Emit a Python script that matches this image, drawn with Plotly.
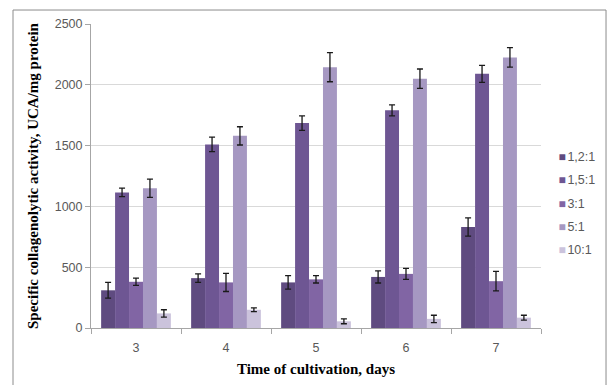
import plotly.graph_objects as go

days = ["3", "4", "5", "6", "7"]
series_names = ["1,2:1", "1,5:1", "3:1", "5:1", "10:1"]
values = {
    "1,2:1": [310, 410, 375, 420, 830],
    "1,5:1": [1115, 1510, 1685, 1790, 2090],
    "3:1": [380, 375, 400, 445, 385],
    "5:1": [1150, 1580, 2145, 2050, 2225],
    "10:1": [120, 150, 55, 75, 85],
}
errors = {
    "1,2:1": [65, 35, 55, 50, 75],
    "1,5:1": [35, 60, 60, 45, 70],
    "3:1": [30, 75, 30, 45, 80],
    "5:1": [75, 75, 120, 80, 80],
    "10:1": [30, 15, 20, 30, 20],
}
colors = ["#5f4b80", "#6e5693", "#8165a4", "#a698c2", "#cbc3dc"]

fig = go.Figure()
for name, col in zip(series_names, colors):
    fig.add_trace(go.Bar(
        x=days, y=values[name], name=name, showlegend=False,
        marker=dict(color=col, line=dict(width=0)),
        error_y=dict(type="data", array=errors[name], color="#1a1a1a",
                     thickness=1.3, width=3),
    ))
# legend entries: small coloured square glyph followed by the series label
for name, col in zip(series_names, colors):
    fig.add_trace(go.Scatter(
        x=[None], y=[None], mode="none", legendgroup=name,
        name=f"<span style='color:{col};font-size:12px'>■</span><span style='font-size:6px'> </span>{name}",
    ))

tick_font = dict(family="Liberation Sans, Arial", size=12.5, color="#595959")

fig.update_layout(
    width=608, height=385,
    margin=dict(l=91, r=67, t=24, b=57, autoexpand=False),
    paper_bgcolor="white", plot_bgcolor="white",
    barmode="group", bargap=0.225, bargroupgap=0,
    showlegend=True,
    legend=dict(x=0.95, y=0.613, xanchor="left", yanchor="top",
                font=dict(family="Liberation Sans, Arial", size=12.5, color="#595959"),
                itemwidth=30, tracegroupgap=4, traceorder="grouped",
                bgcolor="rgba(0,0,0,0)"),
    xaxis=dict(
        type="category", showline=True, linecolor="#a6a6a6", linewidth=1,
        ticks="outside", tickson="boundaries", ticklen=5, tickcolor="#a6a6a6",
        tickfont=tick_font, showgrid=False, ticklabelstandoff=8,
        title=dict(text="<b>Time of cultivation, days</b>",
                   font=dict(family="Liberation Serif, Times New Roman", size=15, color="#000000"),
                   standoff=9),
    ),
    yaxis=dict(
        range=[0, 2500], dtick=500, showline=True, linecolor="#a6a6a6", linewidth=1,
        ticks="outside", ticklen=5, tickcolor="#a6a6a6", tickfont=tick_font,
        showgrid=True, gridcolor="#d9d9d9", gridwidth=1, zeroline=False,
        title=dict(text="<b>Specific collagenolytic activity, UCA/mg protein</b>",
                   font=dict(family="Liberation Serif, Times New Roman", size=15, color="#000000"),
                   standoff=12),
    ),
    shapes=[dict(type="rect", xref="paper", yref="paper",
                 x0=-0.1733, x1=1.1445, y0=-0.2, y1=1.046,
                 line=dict(color="#8c8c8c", width=1), fillcolor="rgba(0,0,0,0)", layer="below")],
)

fig.write_html("out.html")
